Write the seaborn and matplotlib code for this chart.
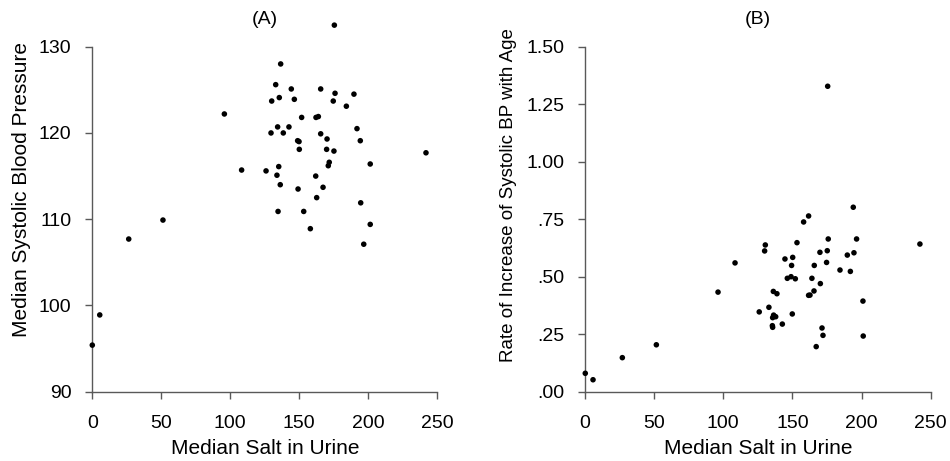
import matplotlib
matplotlib.use("Agg")
import matplotlib.pyplot as plt
import seaborn as sns
import pandas as pd

# Panel A: median salt vs median systolic BP
salt_a = [175.4, 136.5, 95.7, 132.9, 144.2, 165.5, 175.9, 189.6, 130.0, 135.5,
          146.4, 174.6, 184.1, 151.7, 162.1, 163.8, 134.3, 142.5, 129.5, 138.4,
          191.8, 165.5, 170.1, 194.2, 148.8, 149.8, 150.0, 169.8, 175.1, 201.4,
          171.7, 171.0, 108.2, 125.9, 135.1, 133.8, 161.9, 136.2, 149.1, 167.2,
          162.6, 194.5, 134.6, 153.2, 201.4, 158.0, 196.7, 51.2, 26.4, 5.4,
          0.0, 241.8]
bp_a = [132.5, 128.0, 122.2, 125.6, 125.1, 125.1, 124.6, 124.5, 123.7, 124.1,
        123.9, 123.7, 123.1, 121.8, 121.8, 121.9, 120.7, 120.7, 120.0, 120.0,
        120.5, 119.9, 119.3, 119.1, 119.1, 119.0, 118.1, 118.1, 117.9, 116.4,
        116.6, 116.2, 115.7, 115.6, 116.1, 115.1, 115.0, 114.0, 113.5, 113.7,
        112.5, 111.9, 110.9, 110.9, 109.4, 108.9, 107.1, 109.9, 107.7, 98.9,
        95.4, 117.7]

# Panel B: median salt vs rate of increase of systolic BP with age
salt_b = [175.5, 194.0, 161.7, 158.1, 130.4, 129.9, 153.3, 175.9, 196.4, 242.2,
          169.9, 175.2, 189.7, 194.5, 144.6, 150.2, 108.5, 149.4, 165.8, 174.7,
          184.4, 191.9, 146.3, 149.0, 152.1, 164.1, 170.2, 96.2, 136.2, 138.8,
          161.7, 162.7, 165.6, 201.0, 126.0, 133.0, 149.9, 136.4, 137.9, 135.7,
          135.5, 135.7, 142.7, 171.4, 172.1, 201.2, 167.2, 51.6, 27.0, 0.2,
          5.8]
rate_b = [1.328, 0.802, 0.764, 0.738, 0.638, 0.612, 0.648, 0.664, 0.664, 0.642,
          0.606, 0.613, 0.594, 0.604, 0.577, 0.584, 0.560, 0.549, 0.549, 0.562,
          0.529, 0.523, 0.493, 0.500, 0.491, 0.493, 0.470, 0.433, 0.436, 0.426,
          0.419, 0.420, 0.438, 0.394, 0.347, 0.367, 0.338, 0.333, 0.326, 0.322,
          0.287, 0.280, 0.294, 0.277, 0.245, 0.242, 0.196, 0.204, 0.148, 0.080,
          0.052]

x_ticks = [0, 50, 100, 150, 200, 250]
a_yticks = [90, 100, 110, 120, 130]
b_yticks = [0.0, 0.25, 0.50, 0.75, 1.00, 1.25, 1.50]
b_yticklabels = [".00", ".25", ".50", ".75", "1.00", "1.25", "1.50"]

titles = ["(A)", "(B)"]
xlabel = "Median Salt in Urine"
ylabels = ["Median Systolic Blood Pressure", "Rate of Increase of Systolic BP with Age"]

sns.set_theme(style="ticks")
plt.rcParams["font.family"] = ["Liberation Sans", "DejaVu Sans"]

df_a = pd.DataFrame({"salt": salt_a, "bp": bp_a})
df_b = pd.DataFrame({"salt": salt_b, "rate": rate_b})

fig = plt.figure(figsize=(9.5, 4.61), dpi=100)
W, H = 950, 461
bottom = 1 - 391.7 / H
height = (391.7 - 46.7) / H
axA = fig.add_axes([92.3 / W, bottom, (437.3 - 92.3) / W, height])
axB = fig.add_axes([585.0 / W, bottom, (930.7 - 585.0) / W, height])

sns.scatterplot(data=df_a, x="salt", y="bp", ax=axA, color="black", s=16,
                edgecolor="none", clip_on=False, zorder=3)
sns.scatterplot(data=df_b, x="salt", y="rate", ax=axB, color="black", s=16,
                edgecolor="none", clip_on=False, zorder=3)

spine_col = "#595959"
ylab_sizes = [15, 13.5]
ylab_centers = [0.585, 0.57]
ylab_x = [-0.178, -0.198]
for ax, title, ylab, ys, yc, yx in zip([axA, axB], titles, ylabels, ylab_sizes,
                                        ylab_centers, ylab_x):
    ax.set_xlim(0, 250)
    ax.set_xticks(x_ticks)
    ax.set_xlabel(xlabel, fontsize=15, color="black", labelpad=5)
    ax.set_ylabel(ylab, fontsize=ys, color="black")
    ax.yaxis.set_label_coords(yx, yc)
    ax.set_title(title, fontsize=14, color="black", pad=16)
    for s in ["top", "right"]:
        ax.spines[s].set_visible(False)
    for s in ["left", "bottom"]:
        ax.spines[s].set_color(spine_col)
        ax.spines[s].set_linewidth(1.0)
    ax.tick_params(axis="both", direction="out", length=5, width=1.0,
                   color=spine_col, labelsize=14, labelcolor="black")
    ax.tick_params(axis="y", pad=10)
    ax.tick_params(axis="x", pad=12)
    ax.set_facecolor("white")

axA.set_ylim(90, 130)
axA.set_yticks(a_yticks)
axB.set_ylim(0, 1.5)
axB.set_yticks(b_yticks)
axB.set_yticklabels(b_yticklabels)

fig.savefig("out.png", dpi=100, facecolor="white")
